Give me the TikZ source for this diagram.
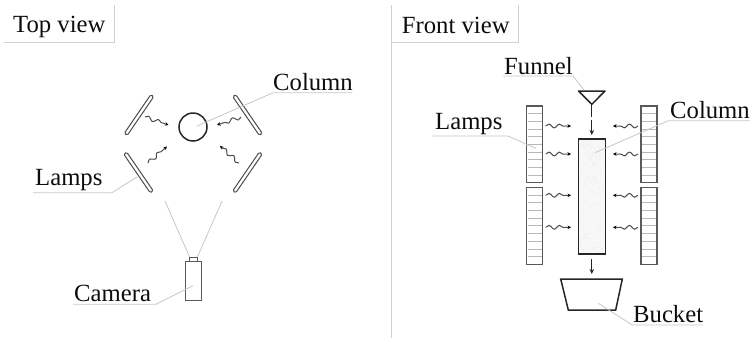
\documentclass[tikz,border=0pt]{standalone}
\usepackage{fontspec}
\setmainfont{Liberation Serif}
\usetikzlibrary{arrows.meta,decorations.pathmorphing}
\tikzset{
  lbl/.style={anchor=base west,inner sep=0pt,font=\fontsize{24.7}{26}\selectfont,text=black!95},
  frameline/.style={draw=black!18,line width=0.9pt},
  leader/.style={draw=black!22,line width=0.8pt},
  lamptop/.style={draw=black!70,line width=1pt,rectangle,rounded corners=1.5pt,minimum width=47pt,minimum height=3.6pt,inner sep=0pt},
  lampfront/.style={draw=black!65,line width=1.2pt},
  rung/.style={draw=black!28,line width=0.7pt},
  part/.style={draw=black!85,line width=1.5pt},
  cam/.style={draw=black!65,line width=1pt},
  wave/.style={draw=black!70,line width=1pt,-{Stealth[length=3.5pt,width=3.5pt,black]},decorate,decoration={snake,amplitude=1.9pt,segment length=10.5pt,pre length=0pt,post length=3pt}},
  flow/.style={draw=black!85,line width=1.2pt},
  flowtip/.style={flow,-{Stealth[length=5pt,width=4.5pt]}}
}
\begin{document}
\begin{tikzpicture}[x=1pt,y=-1pt]
\useasboundingbox (0,0) rectangle (750,338);
% frames
\draw[frameline] (4,42.7) -- (114.7,42.7) -- (114.7,5);
\draw[frameline] (391,5) -- (391,338);
\draw[frameline] (391,42.7) -- (518,42.7) -- (518,5);
\node[lbl] (topview) at (13,32) {Top view};
\node[lbl] (frontview) at (401.7,33) {Front view};
% ---- top view
\node[circle,part,minimum size=28pt,inner sep=0pt] (circ) at (193,127) {};
\node[lamptop,rotate=55.6] (l1) at (139,115) {};
\node[lamptop,rotate=-55.6] (l2) at (247.5,115) {};
\node[lamptop,rotate=-55.6] (l3) at (138.5,172.5) {};
\node[lamptop,rotate=55.6] (l4) at (247.5,172.5) {};
\coordinate (w1a) at (145,117); \coordinate (w1b) at (168.5,125);
\coordinate (w2a) at (241,117); \coordinate (w2b) at (217,125);
\coordinate (w3a) at (148,163); \coordinate (w3b) at (167,146.5);
\coordinate (w4a) at (239,163); \coordinate (w4b) at (220,146);
\foreach \p in {1,2,3,4} \draw[wave] (w\p a) -- (w\p b);
\node[cam,rectangle,minimum width=15.7pt,minimum height=39pt,inner sep=0pt] (camera) at (193.2,280.5) {};
\node[cam,rectangle,minimum width=8pt,minimum height=3.7pt,inner sep=0pt] (lens) at (193.3,259.2) {};
\coordinate (v1) at (165,201); \coordinate (v2) at (222,201);
\draw[leader] (lens.north west) ++(0.7,0) -- (v1);
\draw[leader] (lens.north east) ++(-0.3,0) -- (v2);
\node[lbl] (tcol) at (273,90) {Column};
\node[lbl] (tlamps) at (35,185) {Lamps};
\node[lbl] (tcam) at (74,301.7) {Camera};
\coordinate (a1) at (352,92.7); \coordinate (a2) at (273,92.7); \coordinate (a3) at (197,126);
\draw[leader] (a1) -- (a2) -- (a3);
\coordinate (b1) at (33,192.7); \coordinate (b2) at (112,192.7); \coordinate (b3) at (137,177);
\draw[leader] (b1) -- (b2) -- (b3);
\coordinate (c1) at (73,304.3); \coordinate (c2) at (156,304.3); \coordinate (c3) at (193,285.7);
\draw[leader] (c1) -- (c2) -- (c3);
% ---- front view
\node[rectangle,fill=black!3,minimum width=27.4pt,minimum height=115pt,inner sep=0pt] (colfill) at (592,196.5) {};
\pgfmathsetseed{7}
\foreach \i in {1,...,350}{
  \pgfmathsetmacro{\dx}{579.5+rnd*25}
  \pgfmathsetmacro{\dy}{140+rnd*113}
  \fill[black!12] (\dx,\dy) circle (0.3pt);
}
\node[part,rectangle,minimum width=27.4pt,minimum height=115pt,inner sep=0pt] (column) at (592,196.5) {};
\foreach \n/\xa/\ya/\yb in {fl1/526.7/106/182.7,fl2/526.7/187.3/264.3,fl3/641/106/182.7,fl4/641/187.3/264.3}{
  \foreach \k in {1,...,9}{
    \pgfmathsetmacro{\yy}{\ya+\k*(\yb-\ya)/10}
    \draw[rung] (\xa+1,\yy) -- (\xa+15,\yy);
  }
  \draw[lampfront] (\xa,\ya) rectangle (\xa+16,\yb);
}
\foreach \y [count=\i] in {126,154,195.3,227.3}{
  \coordinate (la\i) at (545.7,\y); \coordinate (lb\i) at (571,\y);
  \coordinate (ra\i) at (638,\y); \coordinate (rb\i) at (613,\y);
  \draw[wave] (la\i) -- (lb\i);
  \draw[wave] (ra\i) -- (rb\i);
}
\coordinate (f1) at (578.5,91); \coordinate (f2) at (605,91); \coordinate (f3) at (591.8,104.3);
\draw[part,line join=round] (f1) -- (f2) -- (f3) -- cycle;
\coordinate (d1) at (591.8,117); \coordinate (d2) at (591.8,119.5); \coordinate (d3) at (591.8,135);
\draw[flow] (f3) -- (d1);
\draw[flowtip] (d2) -- (d3);
\coordinate (e1) at (591.8,259); \coordinate (e2) at (591.8,274);
\draw[flowtip] (e1) -- (e2);
\coordinate (g1) at (560.7,279); \coordinate (g2) at (622.3,279); \coordinate (g3) at (615.7,310); \coordinate (g4) at (568.3,310);
\draw[part,line join=miter] (g1) -- (g2) -- (g3) -- (g4) -- cycle;
\node[lbl] (ffun) at (504,74) {Funnel};
\node[lbl] (flam) at (435,129) {Lamps};
\node[lbl] (fcol) at (670,118.3) {Column};
\node[lbl] (fbuc) at (633,322) {Bucket};
\coordinate (h1) at (503,76); \coordinate (h2) at (573,76); \coordinate (h3) at (584,90);
\draw[leader] (h1) -- (h2) -- (h3);
\coordinate (i1) at (431.7,136); \coordinate (i2) at (508,136); \coordinate (i3) at (536,148.3);
\draw[leader] (i1) -- (i2) -- (i3);
\coordinate (j1) at (750,120.7); \coordinate (j2) at (668.3,120.7); \coordinate (j3) at (595,152.7);
\draw[leader] (j1) -- (j2) -- (j3);
\coordinate (m1) at (703.3,325); \coordinate (m2) at (632.3,325); \coordinate (m3) at (598.3,303.3);
\draw[leader] (m1) -- (m2) -- (m3);
\end{tikzpicture}
\end{document}
